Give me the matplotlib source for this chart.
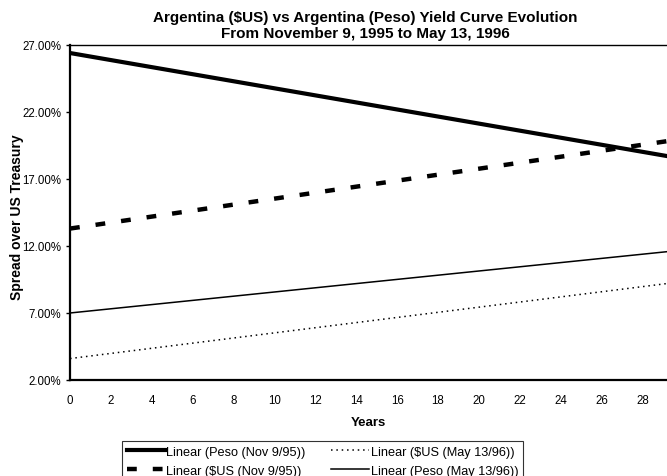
import matplotlib
matplotlib.use('Agg')
import matplotlib.pyplot as plt
from matplotlib.ticker import FuncFormatter

plt.rcParams['font.family'] = ['Liberation Sans', 'DejaVu Sans']

# trend line end points (years, spread %)
years = [0, 30]
peso_nov = [26.4, 18.5]
usd_nov = [13.3, 20.0]
usd_may = [3.6, 9.35]
peso_may = [7.0, 11.7]

yticks = [2, 7, 12, 17, 22, 27]
xticks = list(range(0, 30, 2))

fig = plt.figure(figsize=(6.67, 4.77), dpi=100)
ax = fig.add_axes([0.105, 0.2013, 0.895, 0.7023])

l1, = ax.plot(years, peso_nov, color='black', lw=3.0, label='Linear (Peso (Nov 9/95))')
l2, = ax.plot(years, usd_nov, color='black', lw=3.2, linestyle=(0, (2.2, 3.6)),
              label='Linear ($US (Nov 9/95))')
l3, = ax.plot(years, usd_may, color='black', lw=1.1, linestyle=(0, (1, 2.5)),
              label='Linear ($US (May 13/96))')
l4, = ax.plot(years, peso_may, color='black', lw=1.1, label='Linear (Peso (May 13/96))')

ax.set_xlim(0, 29.2)
ax.set_ylim(2, 27)
ax.set_yticks(yticks)
ax.set_xticks(xticks)
ax.yaxis.set_major_formatter(FuncFormatter(lambda v, p: '%.2f%%' % v))
ax.tick_params(axis='both', labelsize=8.3, length=3, width=1)
ax.tick_params(axis='x', length=0, pad=10)

ax.spines['right'].set_visible(False)
ax.spines['left'].set_linewidth(1.6)
ax.spines['bottom'].set_linewidth(1.6)
ax.spines['top'].set_linewidth(1.0)

ax.set_xlabel('Years', fontsize=9.5, fontweight='bold', labelpad=7)
ax.set_ylabel('Spread over US Treasury', fontsize=10, fontweight='bold', va='center')
ax.yaxis.set_label_coords(-0.089, 0.49)

fig.text(0.548, 0.962, 'Argentina ($US) vs Argentina (Peso) Yield Curve Evolution',
         ha='center', va='center', fontsize=11, fontweight='bold')
fig.text(0.548, 0.928, 'From November 9, 1995 to May 13, 1996',
         ha='center', va='center', fontsize=11, fontweight='bold')

leg = fig.legend(handles=[l1, l2, l3, l4], ncol=2, loc='upper center',
                 bbox_to_anchor=(0.4835, 0.073), bbox_transform=fig.transFigure,
                 fontsize=9.2, frameon=True, fancybox=False, edgecolor='black',
                 handlelength=3.0, handletextpad=0.1, columnspacing=2.0,
                 borderpad=0.35, labelspacing=0.55, borderaxespad=0)
leg.get_frame().set_linewidth(0.8)

fig.savefig('out.png', dpi=100)
